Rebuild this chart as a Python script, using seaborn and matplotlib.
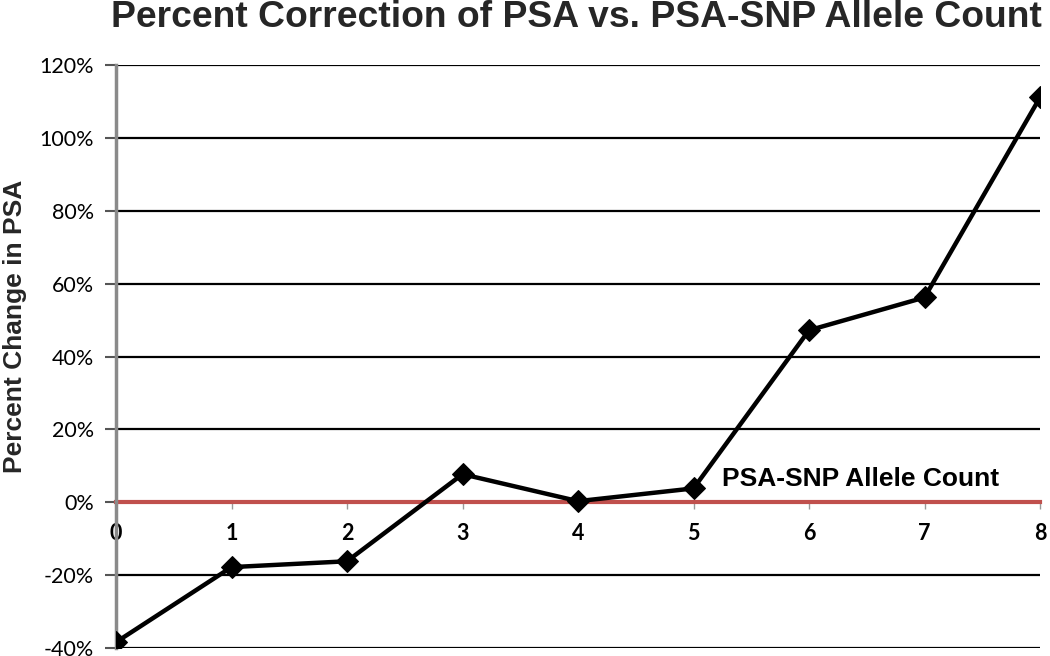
import seaborn as sns
from matplotlib import pyplot as plt
import matplotlib.ticker as ticker
import pandas as pd

sns.set_theme(style='white')
plt.rcParams['font.family'] = ['Lato', 'DejaVu Sans']

allele_count = [0, 1, 2, 3, 4, 5, 6, 7, 8]
pct_change = [-0.384, -0.178, -0.162, 0.077, 0.003, 0.038, 0.472, 0.562, 1.111]
y_ticks = [-0.4, -0.2, 0.0, 0.2, 0.4, 0.6, 0.8, 1.0, 1.2]

df = pd.DataFrame({'count': allele_count, 'change': pct_change})

fig = plt.figure(figsize=(10.5, 6.56), dpi=100)
ax = fig.add_axes([0.1105, 0.0122, 0.88, 0.8887])

# black gridlines (the 0% line is the red axis)
for yv in y_ticks:
    if yv != 0:
        ax.axhline(yv, color='black', lw=1.6, zorder=1)

sns.lineplot(x='count', y='change', data=df, ax=ax, color='black', lw=3.2,
             marker='D', markersize=11, markeredgecolor='black', zorder=3)

ax.set_xlim(0, 8)
ax.set_ylim(-0.4, 1.2)
ax.set_yticks(y_ticks)
ax.yaxis.set_major_formatter(ticker.FuncFormatter(lambda v, p: f'{v * 100:.0f}%'))
ax.set_xticks(allele_count)

for s in ['top', 'right']:
    ax.spines[s].set_visible(False)
ax.spines['left'].set_color('#8a8a8a')
ax.spines['left'].set_linewidth(2.5)
ax.spines['bottom'].set_position(('data', 0))
ax.spines['bottom'].set_color('#c0504d')
ax.spines['bottom'].set_linewidth(3)
ax.spines['bottom'].set_zorder(2)

ax.tick_params(axis='y', length=8, width=1.5, color='#555555', labelsize=15.5, pad=8,
               left=True, labelcolor='black')
ax.tick_params(axis='x', length=5, width=1, color='#999999', labelsize=15.5, pad=10,
               bottom=True, labelcolor='black')
for lab in ax.get_xticklabels():
    lab.set_fontweight('bold')

ax.set_xlabel('')
ax.set_ylabel('')
fig.text(0.0145, 0.503, 'Percent Change in PSA', rotation=90, ha='center', va='center',
         fontsize=19, fontweight='bold', family=['Liberation Sans', 'DejaVu Sans'])
ax.text(7.65, 0.03, 'PSA-SNP Allele Count', ha='right', va='bottom',
        fontsize=19, fontweight='bold', color='black',
        family=['Liberation Sans', 'DejaVu Sans'])

fig.text(0.549, 0.959, 'Percent Correction of PSA vs. PSA-SNP Allele Count',
         ha='center', va='baseline', fontsize=26.8, fontweight='bold',
         family=['Liberation Sans', 'DejaVu Sans'])

plt.savefig('out.png', dpi=100)
